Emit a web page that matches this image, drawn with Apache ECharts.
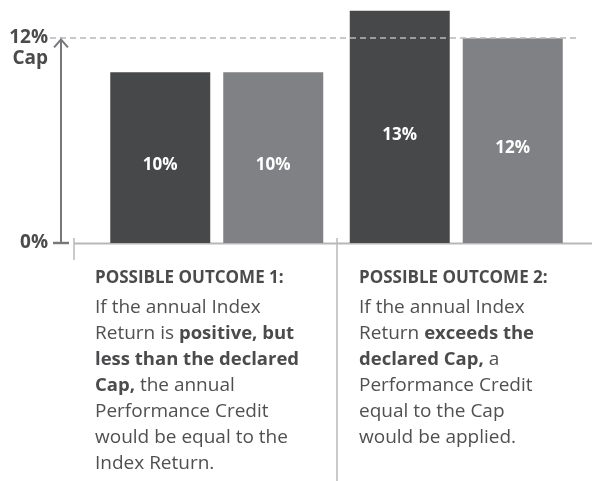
<!DOCTYPE html>
<html>
<head>
<meta charset="utf-8">
<script src="https://cdn.jsdelivr.net/npm/echarts@6/dist/echarts.min.js"></script>
<style>
  html, body { margin: 0; padding: 0; background: #fff; }
  #chart { width: 595px; height: 481px; }
</style>
</head>
<body>
<div id="chart"></div>
<script>
// outcome groups, each has an index return bar (dark) and a credited bar (light)
const outcomes = ['Outcome 1', 'Outcome 2'];
const indexReturn = [10, 13.6];
const indexReturnLabels = ['10%', '13%'];
const creditValues = [10, 12];
const creditLabels = ['10%', '12%'];
const capValue = 12;
const yTickValues = [0, 12];
const yTickLabels = ['0%', '12%\nCap'];

const headings = ['POSSIBLE OUTCOME 1:', 'POSSIBLE OUTCOME 2:'];
const bodies = [
  'If the annual Index\nReturn is {b|positive, but}\n{b|less than the declared}\n{b|Cap,} the annual\nPerformance Credit\nwould be equal to the\nIndex Return.',
  'If the annual Index\nReturn {b|exceeds the}\n{b|declared Cap,} a\nPerformance Credit\nequal to the Cap\nwould be applied.'
];

const font = '"Open Sans", Lato, sans-serif';
const textColor = '#4b4b4d';
const lineColor = '#b8b8ba';

let chart = echarts.init(document.getElementById('chart'));

let barLabel = (labels) => ({
  show: true,
  position: 'inside',
  offset: [0, 8],
  color: '#fff',
  fontFamily: font,
  fontWeight: 'bold',
  fontSize: 17,
  formatter: p => labels[p.dataIndex]
});

let options = {
  animation: false,
  grid: [
    { left: 97, right: 19, top: 4, bottom: 238 },
    { left: 50, right: 19, top: 38, bottom: 238 }
  ],
  xAxis: [
    { type: 'category', gridIndex: 0, data: outcomes, show: false },
    { type: 'value', gridIndex: 1, min: 0, max: 1, show: false }
  ],
  yAxis: [
    { type: 'value', gridIndex: 0, min: 0, max: 14, show: false },
    {
      type: 'value',
      gridIndex: 1,
      min: 0,
      max: 12,
      interval: 12,
      offset: -11,
      splitLine: { show: false },
      axisTick: { show: false },
      axisLine: {
        show: true,
        symbol: ['path://M0,0 L13,0 L13,2 L0,2 Z', 'path://M0,9 L8,0 L16,9 L14.4,10.4 L8,3.2 L1.6,10.4 Z'],
        symbolSize: [16, 10],
        symbolOffset: [0, -5],
        lineStyle: { color: '#77787b', width: 2 }
      },
      axisLabel: {
        customValues: yTickValues,
        margin: 13,
        fontFamily: font,
        fontWeight: 'bold',
        fontSize: 19,
        color: textColor,
        formatter: v => {
          let s = yTickLabels[yTickValues.indexOf(v)];
          let parts = s.split('\n');
          if (parts.length > 1) {
            return '{e|}\n' + parts.map(t => '{t|' + t + '}').join('\n');
          }
          return '{t|' + s + '}';
        },
        rich: {
          e: { lineHeight: 21, fontSize: 19 },
          t: { fontFamily: font, fontWeight: 'bold', fontSize: 19, color: textColor, lineHeight: 21, align: 'right' }
        }
      }
    }
  ],
  series: [
    {
      type: 'bar',
      xAxisIndex: 0,
      yAxisIndex: 0,
      data: indexReturn,
      barWidth: 100,
      barGap: '13%',
      itemStyle: { color: '#47484a' },
      label: barLabel(indexReturnLabels)
    },
    {
      type: 'bar',
      xAxisIndex: 0,
      yAxisIndex: 0,
      data: creditValues,
      barWidth: 100,
      barGap: '13%',
      itemStyle: { color: '#808184' },
      label: barLabel(creditLabels)
    },
    {
      type: 'line',
      xAxisIndex: 1,
      yAxisIndex: 1,
      data: [],
      markLine: {
        silent: true,
        symbol: 'none',
        label: { show: false },
        lineStyle: { color: lineColor, width: 1.5, type: [6, 4] },
        data: [{ yAxis: capValue }]
      }
    }
  ],
  graphic: [
    { type: 'line', shape: { x1: 74, y1: 243.5, x2: 592, y2: 243.5 }, style: { stroke: lineColor, lineWidth: 2 } },
    { type: 'line', shape: { x1: 74, y1: 238, x2: 74, y2: 260 }, style: { stroke: lineColor, lineWidth: 1.5 } },
    { type: 'line', shape: { x1: 337, y1: 238, x2: 337, y2: 481 }, style: { stroke: lineColor, lineWidth: 1.5 } },
    ...headings.map((h, i) => ({
      type: 'text',
      x: [95, 359][i],
      y: 278,
      style: {
        text: h,
        fontFamily: font,
        fontWeight: 'bold',
        fontSize: 17,
        fill: textColor,
        verticalAlign: 'middle'
      }
    })),
    ...bodies.map((b, i) => ({
      type: 'text',
      x: [95, 359][i],
      y: 295,
      style: {
        text: b,
        fontFamily: font,
        fontSize: 19,
        fill: '#505052',
        lineHeight: 26,
        verticalAlign: 'top',
        rich: {
          b: { fontFamily: font, fontWeight: 'bold', fontSize: 18.5, fill: textColor, lineHeight: 26 }
        }
      }
    }))
  ]
};
chart.setOption(options);
</script>
</body>
</html>
